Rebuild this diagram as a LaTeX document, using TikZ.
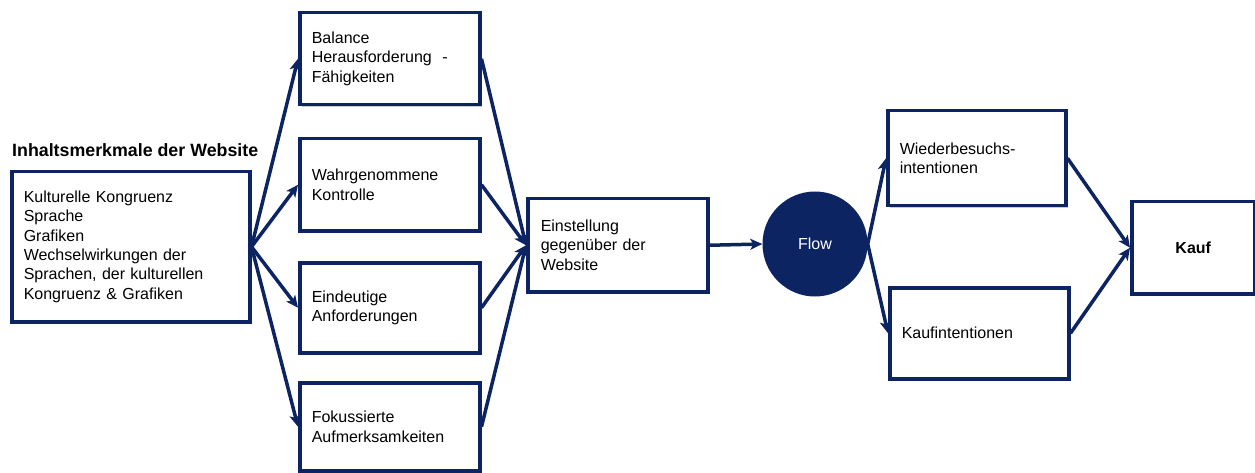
\documentclass[tikz,border=0pt]{standalone}
\usepackage{fontspec}
\setmainfont{Liberation Sans}
\usetikzlibrary{arrows.meta,shadows}
\definecolor{navy}{HTML}{0C2461}
\begin{document}
\begin{tikzpicture}[x=1pt,y=-1pt,
  box/.style={draw=navy, line width=3.5pt, fill=white, inner xsep=12pt, inner ysep=0pt,
    align=left, anchor=north west, font=\fontsize{16}{19.3}\selectfont,
    drop shadow={shadow xshift=2pt, shadow yshift=-2.5pt, opacity=0.35, fill=black!60}},
  arr/.style={draw=navy, line width=3.5pt, -{Stealth[length=12pt,width=11pt,inset=3pt]}}]
\useasboundingbox (0,0) rectangle (1255,473);

% heading of the input block
\node[anchor=base west, inner sep=0pt, font=\fontsize{17.8}{20}\selectfont\bfseries] (title) at (12,157) {Inhaltsmerkmale der Website};

% boxes
\node[box, text width=214pt, minimum height=150pt] (inhalt) at (10,170)
  {Kulturelle Kongruenz\\Sprache\\Grafiken\\Wechselwirkungen der\\Sprachen, der kulturellen\\Kongruenz \& Grafiken};
\node[box, text width=156pt, minimum height=92pt] (balance) at (298,11)
  {Balance\\Herausforderung~~-\\Fähigkeiten};
\node[box, text width=156pt, minimum height=92pt] (kontrolle) at (298,137)
  {Wahrgenommene\\Kontrolle};
\node[box, text width=156pt, minimum height=90pt] (anford) at (298,261)
  {Eindeutige\\Anforderungen};
\node[box, text width=156pt, minimum height=88pt] (fokus) at (298,381)
  {Fokussierte\\Aufmerksamkeiten};
\node[box, text width=154pt, minimum height=93pt, inner xsep=13pt] (einst) at (526,197)
  {Einstellung\\gegenüber der\\Website};
\node[circle, fill=navy, minimum size=105pt, inner sep=0pt, text=white,
  font=\fontsize{16}{19}\selectfont] (flow) at (815,244) {Flow};
\node[box, text width=154pt, minimum height=95pt] (wieder) at (886,109)
  {Wiederbesuchs-\\intentionen};
\node[box, text width=155pt, minimum height=91pt] (kaufint) at (888,286)
  {Kaufintentionen};
\node[box, text width=99pt, minimum height=92pt, align=center, font=\fontsize{16}{19}\selectfont\bfseries] (kauf) at (1130,200)
  {Kauf};

% connectors
\draw[arr] (inhalt.east) -- (balance.west);
\draw[arr] (inhalt.east) -- (kontrolle.west);
\draw[arr] (inhalt.east) -- (anford.west);
\draw[arr] (inhalt.east) -- (fokus.west);
\draw[arr] (balance.east) -- (einst.west);
\draw[arr] (kontrolle.east) -- (einst.west);
\draw[arr] (anford.east) -- (einst.west);
\draw[arr] (fokus.east) -- (einst.west);
\draw[arr] (einst.east) -- (flow.west);
\draw[arr] (flow.east) -- (wieder.west);
\draw[arr] (flow.east) -- (kaufint.west);
\draw[arr] (wieder.east) -- (kauf.west);
\draw[arr] (kaufint.east) -- (kauf.west);
\end{tikzpicture}
\end{document}
